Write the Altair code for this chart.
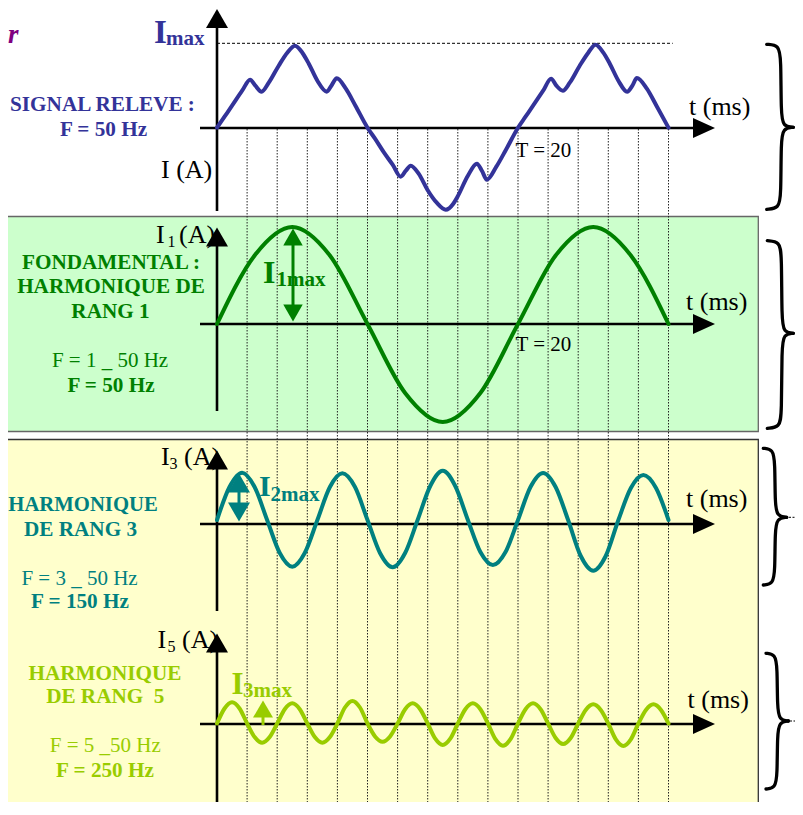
import altair as alt
import pandas as pd

# ---------------- values ----------------
# Measured signal (top panel): time (ms) and current (relative units, Imax ~ 82)
sig_t = [0, 0.5, 1.0, 1.67, 2.2, 2.55, 2.96, 3.44, 4.1, 4.67, 5.18, 5.67, 6.1, 6.67, 7.29, 7.6, 7.96, 8.56, 9.2,
         10, 10.5, 11.1, 11.67, 12.2, 12.55, 12.87, 13.4, 13.98, 14.6, 15.2, 15.7, 15.98, 16.67, 17.27, 17.6, 17.93, 18.56, 19.2,
         20, 20.5, 21.0, 21.67, 22.2, 22.55, 22.98, 23.44, 24.1, 24.67, 25.15, 25.67, 26.1, 26.67, 27.25, 27.6, 27.9, 28.56, 29.2, 30]
sig_i = [0, 11, 22, 37, 48, 42, 36, 45, 62, 75, 82, 75, 64, 47, 36, 42, 49.5, 39, 22,
         0, -11, -25, -37, -49, -43, -38, -46, -62, -75, -82, -76, -69, -48, -36, -43, -52, -39, -22,
         0, 11, 22, 37, 49, 42, 37, 45, 62, 75, 83, 75, 64, 47, 36, 42, 49.7, 39, 22, 0]

# Fundamental (rank 1)
h1_t = [0, 2.5, 5, 7.5, 10, 12.5, 15, 17.5, 20, 22.5, 25, 27.5, 30]
h1_i = [0, 68.5, 97, 68.5, 0, -69, -98, -69, 0, 68.5, 97, 68.5, 0]

# Harmonic rank 3
h3_t = [0, 0.83, 1.67, 2.5, 3.33, 4.17, 5, 5.83, 6.67, 7.5, 8.33, 9.17, 10, 10.83, 11.67, 12.5, 13.33, 14.17,
        15, 15.83, 16.67, 17.5, 18.33, 19.17, 20, 20.83, 21.67, 22.5, 23.33, 24.17, 25, 25.83, 26.67, 27.5,
        28.33, 29.17, 30]
h3_i = [0, 33, 47.3, 33, 0, -33, -46.7, -33, 0, 33, 46.7, 33, 0, -33, -47.3, -33, 0, 34, 49.3, 34, 0,
        -32, -45, -32, 0, 33, 47, 33, 0, -36, -50.7, -36, 0, 32, 45, 32, 0]

# Harmonic rank 5
h5_t = [0, 0.5, 1, 1.5, 2, 2.5, 3, 3.5, 4, 4.5, 5, 5.5, 6, 6.5, 7, 7.5, 8, 8.5, 9, 9.5, 10, 10.5, 11, 11.5,
        12, 12.5, 13, 13.5, 14, 14.5, 15, 15.5, 16, 16.5, 17, 17.5, 18, 18.5, 19, 19.5, 20, 20.5, 21, 21.5,
        22, 22.5, 23, 23.5, 24, 24.5, 25, 25.5, 26, 26.5, 27, 27.5, 28, 28.5, 29, 29.5, 30]
h5_i = [0, 15, 21.2, 15, 0, -13.6, -19.2, -13.6, 0, 14.3, 20.2, 14.3, 0, -13.6, -19.2, -13.6,
        0, 16, 22.6, 16, 0, -12.9, -18.2, -12.9, 0, 14.3, 20.2, 14.3, 0, -15.2, -21.5, -15.2,
        0, 14.3, 20.2, 14.3, 0, -15.7, -22.2, -15.7, 0, 14.3, 20.2, 14.3, 0, -14.5, -20.5, -14.5,
        0, 13.6, 19.2, 13.6, 0, -15.9, -22.5, -15.9, 0, 13.6, 19.2, 13.6, 0]

guide_t = [2, 4, 6, 8, 10, 12, 14, 16, 18, 20, 22, 24, 26, 28, 30]

# texts
title_lines = ["SIGNAL RELEVE :", "F = 50 Hz",
               "FONDAMENTAL :", "HARMONIQUE DE", "RANG 1", "F = 50 Hz",
               "HARMONIQUE", "DE RANG 3", "F = 150 Hz",
               "HARMONIQUE", "DE RANG\u00a0 5", "F = 250 Hz"]
formula_lines = ["F = 1 _ 50 Hz", "F = 3 _ 50 Hz", "F = 5 _50 Hz"]
axis_words = ["I (A)", "t (ms)", "t (ms)", "t (ms)", "t (ms)", "T = 20", "T = 20",
              "I", "1", "(A)", "I", "3", "(A)", "I", "5", "(A)"]
amp_words = ["I", "max", "I", "1max", "I", "2max", "I", "3max"]

# ---------------- layout / style ----------------
BLUE, GREEN, TEAL, LIME, PURPLE = "#333399", "#008000", "#008080", "#99CC00", "#800080"
W, H = 787, 794
X0, PXMS = 217.0, 15.05


def ms(px):
    return (px - X0) / PXMS


xs = alt.Scale(domain=[ms(8), ms(8 + W)], nice=False, zero=False)
ys = alt.Scale(domain=[8, 8 + H], nice=False, zero=False, reverse=True)
FONT = "Liberation Serif"


def X(f="x"):
    return alt.X(f"{f}:Q", scale=xs, axis=None)


def Y(f="y"):
    return alt.Y(f"{f}:Q", scale=ys, axis=None)


layers = []

# panel backgrounds
bg = pd.DataFrame([
    dict(x=ms(-40), x2=ms(758.3), y=216.5, y2=431.5, fill="#CCFFCC", st="#666666"),
    dict(x=ms(-40), x2=ms(758.3), y=439.5, y2=900, fill="#FFFFCC", st="#333333"),
])
layers.append(alt.Chart(bg).mark_rect(strokeWidth=1.3).encode(
    x=X(), x2="x2:Q", y=Y(), y2="y2:Q",
    fill=alt.Fill("fill:N", scale=None), stroke=alt.Stroke("st:N", scale=None)))

# dotted vertical guides
gd = pd.DataFrame({"x": guide_t, "y": [129] * len(guide_t), "y2": [900] * len(guide_t)})
layers.append(alt.Chart(gd).mark_rule(color="#222222", strokeWidth=1, strokeDash=[1.5, 1.5]).encode(
    x=X(), y=Y(), y2="y2:Q"))

# Imax dashed line
dl = pd.DataFrame([dict(x=0, x2=ms(672.7), y=43.3)])
layers.append(alt.Chart(dl).mark_rule(color="black", strokeWidth=1, strokeDash=[3, 2]).encode(
    x=X(), x2="x2:Q", y=Y()))

# axes lines
axis_rows = [128, 324, 524, 724]
ha = pd.DataFrame({"x": [ms(200)] * 4, "x2": [ms(694)] * 4, "y": axis_rows})
layers.append(alt.Chart(ha).mark_rule(color="black", strokeWidth=2.6).encode(x=X(), x2="x2:Q", y=Y()))
va = pd.DataFrame({"x": [0] * 4, "y": [26, 244, 468, 651], "y2": [211, 411, 611, 900]})
layers.append(alt.Chart(va).mark_rule(color="black", strokeWidth=2.6).encode(x=X(), y=Y(), y2="y2:Q"))

# curves
curves = []
for k, (tt, vv, center, col) in enumerate([
        (sig_t, sig_i, 127.7, BLUE), (h1_t, h1_i, 324, GREEN),
        (h3_t, h3_i, 520, TEAL), (h5_t, h5_i, 723.5, LIME)]):
    for o, (t, v) in enumerate(zip(tt, vv)):
        curves.append(dict(k=k, o=o, x=t, y=center - v, c=col))
cdf = pd.DataFrame(curves)
layers.append(alt.Chart(cdf).mark_line(strokeWidth=4, interpolate="monotone", strokeCap="round",
                                       strokeJoin="round").encode(
    x=X(), y=Y(), detail="k:N", order="o:Q", color=alt.Color("c:N", scale=None)))

# amplitude arrows (shafts)
sh = pd.DataFrame([
    dict(x=ms(293), y=244, y2=306, c=GREEN),
    dict(x=ms(239), y=491, y2=504, c=TEAL),
    dict(x=ms(263), y=715, y2=725, c=LIME),
])
layers.append(alt.Chart(sh).mark_rule(strokeWidth=3).encode(
    x=X(), y=Y(), y2="y2:Q", color=alt.Color("c:N", scale=None)))


# texts
def text_layer(rows, weight="normal", style="normal", align="left"):
    df = pd.DataFrame(rows, columns=["text", "x", "y", "s", "c"])
    df["x"] = df["x"].map(ms)
    return alt.Chart(df).mark_text(font=FONT, fontWeight=weight, fontStyle=style, align=align,
                                   baseline="alphabetic").encode(
        x=X(), y=Y(), text="text:N", size=alt.Size("s:Q", scale=None),
        color=alt.Color("c:N", scale=None))


title_pos = [(102.5, 111, 21.2, BLUE), (103.5, 136, 21.2, BLUE),
             (111, 269, 21.2, GREEN), (111, 293, 21.2, GREEN), (110.5, 318, 21.2, GREEN), (111, 392, 21.2, GREEN),
             (83, 511, 20.7, TEAL), (80.5, 536, 21.2, TEAL), (80, 608, 21.2, TEAL),
             (105, 680, 21.2, LIME), (105.3, 703, 21.2, LIME), (105, 777, 21.2, LIME)]
layers.append(text_layer([(t, x, y, s, c) for t, (x, y, s, c) in zip(title_lines, title_pos)],
                         weight="bold", align="center"))

formula_pos = [(110, 367, GREEN), (79.5, 585, TEAL), (105.3, 752, LIME)]
layers.append(text_layer([(t, x, y, 21, c) for t, (x, y, c) in zip(formula_lines, formula_pos)],
                         align="center"))

axis_pos = [(161, 178, 26), (689, 115, 26), (686, 310, 26), (686, 507, 26), (687.5, 708, 26),
            (515.5, 157, 21), (515.5, 351, 21),
            (156, 243, 26), (167.5, 247, 16), (179, 243, 26),
            (161, 465, 26), (169.5, 469, 16), (184, 465, 26),
            (157.5, 648, 26), (167.5, 652, 16), (182, 648, 26)]
layers.append(text_layer([(t, x, y, s, "black") for t, (x, y, s) in zip(axis_words, axis_pos)]))

amp_pos = [(154, 42.7, 33, BLUE), (166, 45, 21, BLUE),
           (263, 283, 32, GREEN), (276.5, 286, 21, GREEN),
           (259, 496, 30, TEAL), (270.5, 501, 21, TEAL),
           (231.5, 694, 31, LIME), (243, 697, 21, LIME)]
layers.append(text_layer([(t, x, y, s, c) for t, (x, y, s, c) in zip(amp_words, amp_pos)], weight="bold"))

layers.append(text_layer([("r", 8, 43, 27, PURPLE)], weight="bold", style="italic"))

# arrow heads
UP = "M-1,0.86L0,-0.86L1,0.86Z"
DOWN = "M-1,-0.86L1,-0.86L0,0.86Z"
RIGHT = "M-1,-0.9L1,0L-1,0.9Z"
heads = pd.DataFrame([
    dict(x=ms(217), y=18.5, shp=UP, s=484, c="black"),
    dict(x=ms(217), y=237, shp=UP, s=484, c="black"),
    dict(x=ms(217), y=460, shp=UP, s=484, c="black"),
    dict(x=ms(217), y=643, shp=UP, s=484, c="black"),
    dict(x=ms(704), y=128, shp=RIGHT, s=484, c="black"),
    dict(x=ms(704), y=324, shp=RIGHT, s=484, c="black"),
    dict(x=ms(704), y=524, shp=RIGHT, s=484, c="black"),
    dict(x=ms(704), y=724, shp=RIGHT, s=484, c="black"),
    dict(x=ms(293), y=237, shp=UP, s=380, c=GREEN),
    dict(x=ms(293), y=313, shp=DOWN, s=380, c=GREEN),
    dict(x=ms(239), y=483, shp=UP, s=484, c=TEAL),
    dict(x=ms(239), y=512, shp=DOWN, s=484, c=TEAL),
    dict(x=ms(263), y=709, shp=UP, s=400, c=LIME),
])
layers.append(alt.Chart(heads).mark_point(filled=True, opacity=1, strokeWidth=0).encode(
    x=X(), y=Y(), shape=alt.Shape("shp:N", scale=None), size=alt.Size("s:Q", scale=None),
    color=alt.Color("c:N", scale=None)))

# braces
br = []
for k, (x0, xv, xt, yt, ym, yb) in enumerate([
        (766.7, 781, 793.3, 44.3, 127.3, 209.3),
        (767.3, 781.7, 793.3, 240.7, 333.3, 428.3),
        (763.3, 775, 786.7, 448.3, 517.3, 585),
        (766, 777.3, 788.3, 653.3, 721, 789)]):
    halves = [[(x0, yt), (xv - 2, yt + 1), (xv, yt + 14), (xv, ym - 14), (xv + 2, ym - 1), (xt, ym)],
              [(xt, ym), (xv + 2, ym + 1), (xv, ym + 14), (xv, yb - 14), (xv - 2, yb - 1), (x0, yb)]]
    for h, pts in enumerate(halves):
        for o, (px, py) in enumerate(pts):
            br.append(dict(k=f"{k}-{h}", o=o, x=ms(px), y=py))
bdf = pd.DataFrame(br)
layers.append(alt.Chart(bdf).mark_line(color="black", strokeWidth=3.3, interpolate="basis",
                                       strokeCap="round").encode(
    x=X(), y=Y(), detail="k:N", order="o:Q"))

tails = pd.DataFrame([dict(x=ms(795), x2=ms(801), y=333.3),
                      dict(x=ms(789), x2=ms(797), y=517.3),
                      dict(x=ms(790), x2=ms(797), y=721)])
layers.append(alt.Chart(tails).mark_rule(color="black", strokeWidth=1, strokeDash=[2, 1.5]).encode(
    x=X(), x2="x2:Q", y=Y()))

chart = alt.layer(*layers).properties(
    width=W, height=H, padding=0, autosize="none", background="white"
).configure_view(stroke=None)

chart.save("out.html", embed_options={"renderer": "svg", "actions": False})
